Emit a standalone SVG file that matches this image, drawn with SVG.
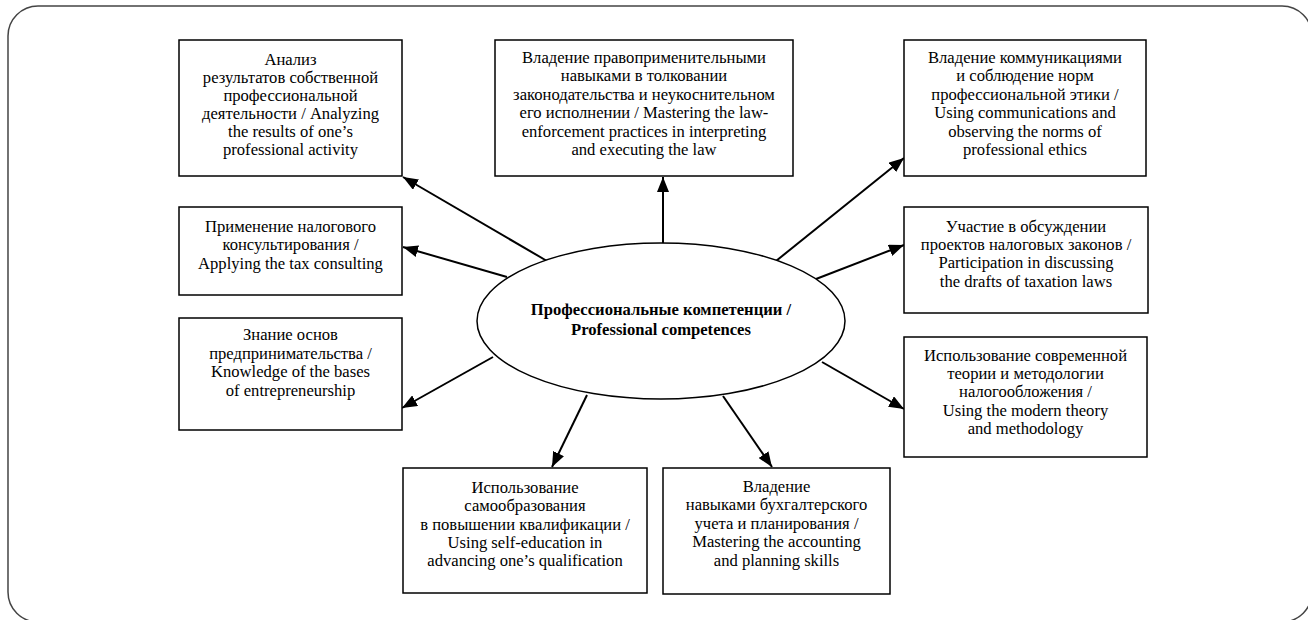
<svg xmlns="http://www.w3.org/2000/svg" width="1308" height="620" viewBox="0 0 1308 620">
<style>
.box{fill:#fff;stroke:#000;stroke-width:1.5}
.t{font-family:"Liberation Serif","Times New Roman",serif;font-size:16.6px;fill:#000;text-anchor:middle}
.b{font-weight:bold}
.c{stroke:#000;stroke-width:2;fill:none;marker-end:url(#ah)}
</style>
<defs>
<marker id="ah" markerUnits="userSpaceOnUse" markerWidth="16" markerHeight="12" refX="15" refY="6" orient="auto">
<path d="M0,0 L15,6 L0,12 z" fill="#000"/>
</marker>
</defs>
<rect x="8" y="6" width="1304" height="616" rx="30" ry="30" fill="none" stroke="#444" stroke-width="1.5"/>
<g id="connectors">
<line class="c" x1="547" y1="261" x2="403" y2="177"/>
<line class="c" x1="663" y1="243" x2="663" y2="177"/>
<line class="c" x1="776" y1="261" x2="904" y2="158"/>
<line class="c" x1="507" y1="277" x2="403" y2="247"/>
<line class="c" x1="816" y1="279" x2="904" y2="245"/>
<line class="c" x1="493" y1="357" x2="402" y2="408"/>
<line class="c" x1="822" y1="362" x2="904" y2="409"/>
<line class="c" x1="587" y1="395" x2="552" y2="467"/>
<line class="c" x1="723" y1="396" x2="772" y2="467"/>
</g>
<g id="center">
<ellipse cx="661" cy="321" rx="184" ry="78" fill="#fff" stroke="#000" stroke-width="1.5"/>
<text class="t b" x="661" y="315">Профессиональные компетенции /</text>
<text class="t b" x="661" y="335">Professional competences</text>
</g>
<g id="n1">
<rect class="box" x="179" y="40" width="223" height="136"/>
<text class="t" x="290.5" y="65">Анализ</text>
<text class="t" x="290.5" y="83">результатов собственной</text>
<text class="t" x="290.5" y="101">профессиональной</text>
<text class="t" x="290.5" y="119">деятельности / Analyzing</text>
<text class="t" x="290.5" y="137">the results of one’s</text>
<text class="t" x="290.5" y="155">professional activity</text>
</g>
<g id="n2">
<rect class="box" x="495" y="40" width="298" height="136"/>
<text class="t" x="644" y="63">Владение правоприменительными</text>
<text class="t" x="644" y="81">навыками в толковании</text>
<text class="t" x="644" y="100">законодательства и неукоснительном</text>
<text class="t" x="644" y="118">его исполнении / Mastering the law-</text>
<text class="t" x="644" y="137">enforcement practices in interpreting</text>
<text class="t" x="644" y="155">and executing the law</text>
</g>
<g id="n3">
<rect class="box" x="904" y="40" width="242" height="136"/>
<text class="t" x="1025" y="63">Владение коммуникациями</text>
<text class="t" x="1025" y="81">и соблюдение норм</text>
<text class="t" x="1025" y="100">профессиональной этики /</text>
<text class="t" x="1025" y="118">Using communications and</text>
<text class="t" x="1025" y="137">observing the norms of</text>
<text class="t" x="1025" y="155">professional ethics</text>
</g>
<g id="n4">
<rect class="box" x="179" y="207" width="223" height="88"/>
<text class="t" x="290.5" y="232">Применение налогового</text>
<text class="t" x="290.5" y="250">консультирования /</text>
<text class="t" x="290.5" y="269">Applying the tax consulting</text>
</g>
<g id="n5">
<rect class="box" x="904" y="207" width="244" height="106"/>
<text class="t" x="1026" y="232">Участие в обсуждении</text>
<text class="t" x="1026" y="250">проектов налоговых законов /</text>
<text class="t" x="1026" y="268">Participation in discussing</text>
<text class="t" x="1026" y="287">the drafts of taxation laws</text>
</g>
<g id="n6">
<rect class="box" x="179" y="318" width="223" height="112"/>
<text class="t" x="290.5" y="340">Знание основ</text>
<text class="t" x="290.5" y="359">предпринимательства /</text>
<text class="t" x="290.5" y="377">Knowledge of the bases</text>
<text class="t" x="290.5" y="396">of entrepreneurship</text>
</g>
<g id="n7">
<rect class="box" x="904" y="337" width="243" height="120"/>
<text class="t" x="1025.5" y="361">Использование современной</text>
<text class="t" x="1025.5" y="379">теории и методологии</text>
<text class="t" x="1025.5" y="397">налогообложения /</text>
<text class="t" x="1025.5" y="416">Using the modern theory</text>
<text class="t" x="1025.5" y="434">and methodology</text>
</g>
<g id="n8">
<rect class="box" x="403" y="468" width="244" height="125"/>
<text class="t" x="525" y="493">Использование</text>
<text class="t" x="525" y="511">самообразования</text>
<text class="t" x="525" y="530">в повышении квалификации /</text>
<text class="t" x="525" y="548">Using self-education in</text>
<text class="t" x="525" y="566">advancing one’s qualification</text>
</g>
<g id="n9">
<rect class="box" x="663" y="468" width="227" height="126"/>
<text class="t" x="776.5" y="492">Владение</text>
<text class="t" x="776.5" y="510">навыками бухгалтерского</text>
<text class="t" x="776.5" y="529">учета и планирования /</text>
<text class="t" x="776.5" y="547">Mastering the accounting</text>
<text class="t" x="776.5" y="566">and planning skills</text>
</g>
</svg>
